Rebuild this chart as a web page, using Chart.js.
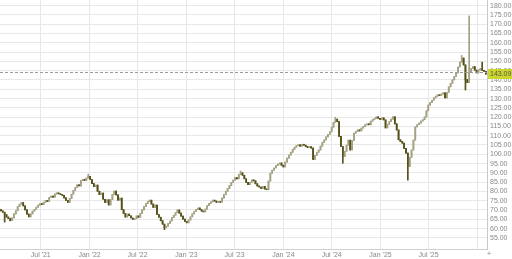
<!DOCTYPE html>
<html>
<head>
<meta charset="utf-8">
<script src="https://cdn.jsdelivr.net/npm/chart.js@4"></script>
<style>
html, body { margin: 0; padding: 0; background: #fff; }
</style>
</head>
<body>
<canvas id="mycanvas" width="512" height="259"></canvas>
<script>
// weekly candles, first week starts on this date
var startDate = '2021-02-01';
var firstOpen = 70.2;
var closes = [
	69.5, 68.8, 67.5, 66.2, 65.4, 64.2, 65.8, 67.9, 69.6, 71.8,
	73.1, 74.0, 72.2, 70.1, 67.8, 66.3, 67.9, 69.4, 70.2, 71.5,
	72.6, 73.4, 72.9, 74.2, 75.1, 74.6, 76.8, 77.5, 76.9, 78.6,
	79.2, 78.7, 78.4, 77.9, 76.5, 75.2, 74.1, 76.2, 78.5, 80.6,
	82.1, 83.6, 82.9, 85.8, 86.5, 85.9, 87.2, 88.1, 86.4, 84.2,
	82.6, 83.4, 80.1, 78.3, 79.1, 75.8, 74.1, 75.5, 72.7, 75.6,
	78.4, 80.2, 78.1, 75.3, 76.4, 70.2, 68.1, 66.2, 67.8, 66.9,
	65.7, 64.9, 65.3, 66.8, 66.1, 68.2, 70.1, 71.8, 73.4, 74.6,
	75.3, 73.2, 71.4, 72.6, 67.6, 66.1, 64.2, 62.4, 60.6, 61.3,
	62.8, 64.1, 65.9, 67.2, 68.6, 70.0, 68.3, 66.7, 65.1, 63.8,
	63.1, 64.6, 66.3, 67.9, 69.2, 70.4, 71.1, 70.2, 69.4, 69.0,
	70.5, 72.3, 73.6, 74.4, 75.3, 74.8, 74.1, 74.5, 74.2, 76.4,
	78.3, 80.1, 81.6, 83.2, 84.9, 86.1, 87.4, 86.8, 89.1, 90.0,
	88.7, 86.8, 84.9, 83.6, 84.8, 86.2, 85.7, 84.1, 82.9, 82.4,
	81.6, 82.7, 81.3, 80.9, 85.6, 89.8, 91.4, 92.6, 93.9, 94.7,
	95.3, 94.1, 93.2, 95.8, 97.9, 99.6, 101.1, 102.6, 103.8, 104.6,
	105.1, 104.3, 105.4, 104.9, 104.2, 103.6, 104.1, 103.3, 97.2, 99.4,
	101.1, 102.3, 104.4, 106.3, 107.7, 109.4, 110.8, 112.1, 114.6, 117.2,
	118.9, 117.6, 109.6, 104.2, 98.8, 101.6, 104.9, 107.6, 102.3, 107.4,
	111.4, 112.2, 113.1, 112.6, 114.1, 114.9, 115.8, 116.4, 115.9, 117.8,
	118.6, 119.2, 120.1, 119.4, 118.8, 119.6, 118.5, 114.2, 116.1, 117.5,
	118.9, 120.2, 116.4, 113.1, 107.8, 106.9, 106.0, 103.2, 100.6, 93.4,
	98.4, 102.3, 107.6, 114.7, 115.9, 116.8, 117.9, 118.6, 120.1, 123.4,
	126.5, 127.9, 129.1, 130.4, 131.3, 132.0, 131.6, 132.4, 133.1, 130.3,
	133.4, 136.3, 138.2, 140.1, 141.9, 143.8, 147.0, 149.6, 151.8, 148.1,
	140.2, 138.6, 144.2, 146.1, 147.2, 145.3, 143.8, 145.4, 146.1, 145.2,
	144.6, 143.1
];
// [week, price] for the longer shadows
var wickHighs = [[47, 89.3], [129, 91.0], [180, 120.0], [248, 153.2], [252, 174.5], [259, 149.7]];
var wickLows = [[88, 59.4], [184, 95.2], [219, 86.0], [250, 134.6], [2, 63.5]];

var tickDates = ['2021-07-01', '2022-01-01', '2022-07-01', '2023-01-01', '2023-07-01',
	'2024-01-01', '2024-07-01', '2025-01-01', '2025-07-01', '2026-01-01'];
var tickLabels = ["Jul '21", "Jan '22", "Jul '22", "Jan '23", "Jul '23",
	"Jan '24", "Jul '24", "Jan '25", "Jul '25", ""];
var priceTicks = [55, 60, 65, 70, 75, 80, 85, 90, 95, 100, 105, 110, 115, 120, 125,
	130, 135, 140, 145, 150, 155, 160, 165, 170, 175, 180];
var linePrice = 144.4;
var lastPrice = 143.09;

var upColor = '#a4a184';
var downColor = '#56511a';
var font = 'Liberation Sans';

function weekOf(d) {
	return (Date.parse(d) - Date.parse(startDate)) / (7 * 864e5);
}

var bodies = [], shadows = [], colors = [];
var hi = {}, lo = {};
wickHighs.forEach(function(p){ hi[p[0]] = p[1]; });
wickLows.forEach(function(p){ lo[p[0]] = p[1]; });
for (var i = 0; i < closes.length; i++) {
	var o = i == 0 ? firstOpen : closes[i - 1];
	var c = closes[i];
	var h = hi[i] !== undefined ? hi[i] : Math.max(o, c);
	var l = lo[i] !== undefined ? lo[i] : Math.min(o, c);
	bodies.push({x: i, y: [o, c]});
	shadows.push({x: i, y: [l, h]});
	colors.push(c >= o ? upColor : downColor);
}

var priceLine = {
	id: 'priceLine',
	afterDraw: function(chart) {
		var ctx = chart.ctx, ys = chart.scales.y, area = chart.chartArea;
		var py = Math.round(ys.getPixelForValue(linePrice)) + 0.5;
		ctx.save();
		ctx.strokeStyle = '#9a9a9a';
		ctx.lineWidth = 1;
		ctx.setLineDash([3, 2]);
		ctx.beginPath();
		ctx.moveTo(area.left, py);
		ctx.lineTo(area.right, py);
		ctx.stroke();
		ctx.setLineDash([]);
		var ly = Math.round(ys.getPixelForValue(lastPrice));
		ctx.fillStyle = '#cdd62b';
		ctx.fillRect(area.right + 1, ly - 5, 24, 10);
		ctx.fillStyle = '#555';
		ctx.font = '7px "' + font + '"';
		ctx.textBaseline = 'middle';
		ctx.fillText(lastPrice.toFixed(2), area.right + 3, ly + 0.5);
		ctx.fillStyle = '#888';
		ctx.fillText('+', area.right, area.bottom + 5);
		ctx.restore();
	}
};

var ctx = document.getElementById('mycanvas');
var chart = new Chart(ctx, {
	type: 'bar',
	data: {
		datasets: [
			{ data: shadows, backgroundColor: colors, barThickness: 1, grouped: false, order: 2 },
			{ data: bodies, backgroundColor: colors, barThickness: 1, grouped: false, order: 1 }
		]
	},
	options: {
		responsive: false,
		animation: false,
		layout: { padding: 0 },
		plugins: { legend: { display: false }, tooltip: { enabled: false } },
		scales: {
			x: {
				type: 'linear',
				offset: false,
				min: -0.5,
				max: 261.6,
				grid: { color: '#e8e8e8', drawTicks: false, offset: false },
				border: { color: '#d0d0d0' },
				afterBuildTicks: function(s) {
					s.ticks = tickDates.map(function(d){ return {value: weekOf(d)}; });
				},
				afterFit: function(s) { s.height = 10; s.paddingLeft = 0; s.paddingRight = 0; },
				ticks: {
					maxRotation: 0,
					autoSkip: false,
					padding: 2,
					color: '#888',
					font: { family: font, size: 7 },
					callback: function(v, idx) { return tickLabels[idx]; }
				}
			},
			y: {
				position: 'right',
				min: 49.0,
				max: 183.07,
				grid: { color: '#e8e8e8', drawTicks: false },
				border: { color: '#c8c8c8' },
				afterBuildTicks: function(s) {
					s.ticks = priceTicks.map(function(v){ return {value: v}; });
				},
				afterFit: function(s) { s.width = 25; s.paddingTop = 0; s.paddingBottom = 0; },
				ticks: {
					autoSkip: false,
					padding: 3,
					color: '#888',
					font: { family: font, size: 7 },
					callback: function(v) { return v.toFixed(2); }
				}
			}
		}
	},
	plugins: [priceLine]
});
</script>
</body>
</html>
